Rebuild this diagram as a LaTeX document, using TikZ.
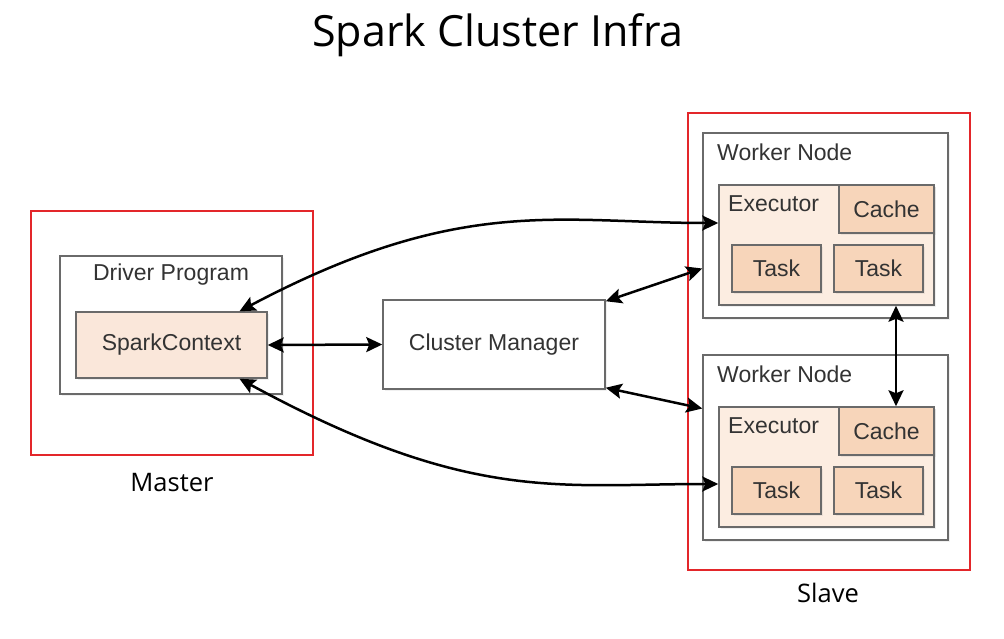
\documentclass[tikz,border=0pt]{standalone}
\usepackage{fontspec}
\setmainfont{Liberation Sans}
\newfontfamily\titlefont{Open Sans}
\usetikzlibrary{arrows.meta,shadows}
\definecolor{framered}{HTML}{E3262A}
\definecolor{boxgray}{HTML}{6A6A6A}
\definecolor{textgray}{HTML}{333333}
\definecolor{scfill}{HTML}{FAE7DA}
\definecolor{execfill}{HTML}{FCEDE1}
\definecolor{taskfill}{HTML}{F7D5BA}
\begin{document}
\begin{tikzpicture}[x=1pt,y=-1pt]
  \tikzstyle{frame}=[draw=framered,line width=2pt,inner sep=0pt]
  \tikzstyle{box}=[draw=boxgray,line width=1.5pt,fill=white,inner sep=0pt,
    drop shadow={opacity=0.12,shadow xshift=2pt,shadow yshift=-2pt}]
  \tikzstyle{txt}=[font=\fontsize{23}{28}\selectfont,text=textgray,inner sep=0pt]
  \tikzstyle{caption}=[font=\titlefont\fontsize{25.5}{30}\selectfont,inner sep=0pt]
  \tikzstyle{edge}=[draw,line width=2.5pt,
    {Stealth[length=16pt,width=15pt,inset=3pt]}-{Stealth[length=16pt,width=15pt,inset=3pt]}]
  \useasboundingbox (0,0) rectangle (1004,639);
  % title
  \node [caption,font=\titlefont\fontsize{43}{52}\selectfont] (title) at (498,35) {Spark Cluster Infra};
  % master side
  \node [frame,minimum width=282pt,minimum height=244pt] (master) at (172,333) {};
  \node [caption] (mastertxt) at (172,483) {Master};
  \node [box,minimum width=222pt,minimum height=138pt] (driver) at (171,325) {};
  \node [txt] (drivertxt) at (171,275) {Driver Program};
  \node [box,fill=scfill,minimum width=191pt,minimum height=66pt] (sc) at (171.5,345) {};
  \node [txt] (sctxt) at (sc) {SparkContext};
  % cluster manager
  \node [box,minimum width=222pt,minimum height=89pt] (cm) at (494,344.5) {};
  \node [txt] (cmtxt) at (cm) {Cluster Manager};
  % slave side
  \node [frame,minimum width=282pt,minimum height=457pt] (slave) at (829,341.5) {};
  \node [caption] (slavetxt) at (828,593) {Slave};
  \foreach \n/\y in {1/0,2/222}{
    \node [box,minimum width=245pt,minimum height=185pt] (worker\n) at (825.5,225.5+\y) {};
    \node [txt,anchor=west] (workertxt\n) at (717,152+\y) {Worker Node};
    \node [box,fill=execfill,minimum width=215pt,minimum height=120pt] (exec\n) at (826.5,245+\y) {};
    \node [txt,anchor=west] (exectxt\n) at (728,204+\y) {Executor};
    \node [box,fill=taskfill,drop shadow={opacity=0},minimum width=95pt,minimum height=48pt] (cache\n) at (886.5,209+\y) {};
    \node [txt] at (cache\n) {Cache};
    \node [box,fill=taskfill,drop shadow={opacity=0},minimum width=89pt,minimum height=47pt] (taska\n) at (776.5,268.5+\y) {};
    \node [txt] at (taska\n) {Task};
    \node [box,fill=taskfill,drop shadow={opacity=0},minimum width=89pt,minimum height=47pt] (taskb\n) at (878.5,268.5+\y) {};
    \node [txt] at (taskb\n) {Task};
  }
  % connectors
  \path[edge] (sc.east) -- (cm.west);
  \path[edge] ([yshift=-2pt]cm.north east) -- ([yshift=-43pt]worker1.west);
  \path[edge] ([yshift=2pt]cm.south east) -- ([yshift=39pt]worker2.west);
  \path[edge] ([xshift=68pt]sc.north) .. controls +(221,-117) and +(-160,0) .. ([yshift=22pt]exec1.west);
  \path[edge] ([xshift=68pt]sc.south) .. controls +(230,125) and +(-160,0) .. ([yshift=-17pt]exec2.west);
  \path[edge] ([xshift=9.5pt]cache2.north |- exec1.south) -- ([xshift=9.5pt]cache2.north);
\end{tikzpicture}
\end{document}
